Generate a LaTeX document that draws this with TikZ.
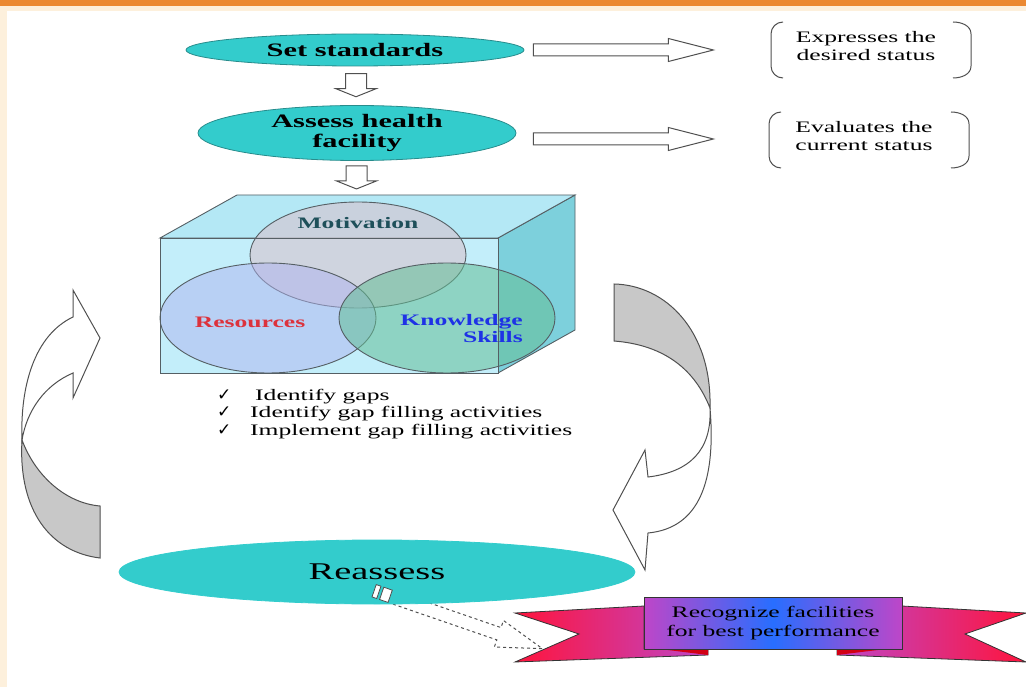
\documentclass[tikz,border=0pt]{standalone}
\usepackage{fontspec}
\setmainfont{Liberation Serif}[FakeStretch=1.6]
\newfontfamily\checkfont{DejaVu Sans}
\usepackage{tikz}
\usetikzlibrary{shapes.geometric,calc,positioning,backgrounds}

\definecolor{framebar}{RGB}{235,137,50}
\definecolor{framecream}{RGB}{253,240,220}
\definecolor{ovalteal}{RGB}{51,204,204}
\definecolor{ovalline}{RGB}{40,140,140}
\definecolor{arrowgray}{RGB}{80,80,80}
\definecolor{bandgray}{RGB}{200,200,200}
\definecolor{cubefront}{RGB}{195,238,250}
\definecolor{cubetop}{RGB}{180,232,245}
\definecolor{cubeside}{RGB}{125,208,220}
\definecolor{cubeline}{RGB}{85,95,100}
\definecolor{motivfill}{RGB}{215,195,205}
\definecolor{resfill}{RGB}{175,180,240}
\definecolor{knowfill}{RGB}{100,190,150}
\definecolor{motivtext}{RGB}{30,80,90}
\definecolor{restext}{RGB}{220,50,60}
\definecolor{knowtext}{RGB}{30,50,230}
\definecolor{ribred}{RGB}{255,20,60}
\definecolor{ribpurple}{RGB}{190,70,200}
\definecolor{ribblue}{RGB}{40,110,255}
\definecolor{ribfold}{RGB}{210,0,20}

\tikzset{
  oval/.style={ellipse, draw=ovalline, line width=0.8pt, fill=ovalteal, inner sep=0pt, align=center},
  blockarrow/.style={draw=arrowgray, line width=1pt, fill=white},
  bracketline/.style={draw=arrowgray, line width=1pt},
  venn/.style={draw=cubeline, line width=0.9pt},
  bandwhite/.style={draw=arrowgray, line width=1pt, fill=white},
  bandshade/.style={draw=arrowgray, line width=1pt, fill=bandgray},
  stripe/.style={draw=arrowgray, line width=0.8pt, fill=white},
  ribbonline/.style={draw=black!80, line width=0.8pt},
  downblock/.pic={
    \draw[blockarrow] (-10.5,-12) -- (10.5,-12) -- (10.5,3) -- (20,3) -- (0,11)
      -- (-20,3) -- (-10.5,3) -- cycle;
  },
  rightblock/.pic={
    \draw[blockarrow] (0,-6) -- (135,-6) -- (135,-11.5) -- (180,0) -- (135,11.5)
      -- (135,6) -- (0,6) -- cycle;
  }
}

\begin{document}
\begin{tikzpicture}[x=1pt,y=-1pt]
  \useasboundingbox (0,0) rectangle (1026,687);

  % --- slide frame ---
  \fill[framecream] (0,6) rectangle (1026,11);
  \fill[framecream] (0,6) rectangle (7,687);
  \fill[framebar] (0,0) rectangle (1026,6);

  % ======================================================
  % top: standards and assessment
  % ======================================================
  \node[oval, minimum width=338pt, minimum height=32pt,
        font=\fontsize{19}{20}\selectfont\bfseries] (set) at (355,50) {Set standards};
  \node[oval, minimum width=318pt, minimum height=55pt,
        font=\fontsize{19}{20}\selectfont\bfseries] (assess) at (357,133) {Assess health\\facility};
  \coordinate (cubetop) at (356,195);

  \pic at ($(set.south)!0.5!(assess.north)$) {downblock};
  \pic at ($(assess.south)!0.5!(cubetop)$) {downblock};

  % notes in round brackets
  \node[align=center, font=\fontsize{16}{18}\selectfont] (desired) at (866,46) {Expresses the\\desired status};
  \node[align=center, font=\fontsize{16}{18}\selectfont] (current) at (864,136) {Evaluates the\\current status};

  \pic at ($(set.east)+(9,0)$) {rightblock};
  \pic at ($(assess.east)+(17,6)$) {rightblock};

  \foreach \n in {desired,current}{
    \draw[bracketline] ($(\n.center)+(-83,-24)$) to[out=180,in=90] ++(-12,12)
      -- ++(0,32) to[out=-90,in=180] ++(12,12);
    \draw[bracketline] ($(\n.center)+(87,-24)$) to[out=0,in=90] ++(18,12)
      -- ++(0,32) to[out=-90,in=0] ++(-18,12);
  }

  % ======================================================
  % box with the three circles
  % ======================================================
  \draw[draw=cubeline, line width=0.9pt, fill=cubeside] (498,238) -- (575,195) -- (575,330) -- (498,373) -- cycle;
  \draw[draw=cubeline, line width=0.9pt, fill=cubetop] (160,238) -- (237,195) -- (575,195) -- (498,238) -- cycle;
  \fill[cubefront] (160,238) rectangle (498,373);

  \draw[venn, fill=motivfill, fill opacity=0.6] (358,255) ellipse [x radius=108pt, y radius=53pt];
  \draw[venn, fill=resfill, fill opacity=0.5] (268,318) ellipse [x radius=108pt, y radius=55pt];
  \draw[venn, fill=knowfill, fill opacity=0.55] (447,318) ellipse [x radius=108pt, y radius=55pt];

  \draw[draw=cubeline, line width=0.9pt] (160,238) rectangle (498,373);

  \node[font=\fontsize{16}{17}\selectfont\bfseries, text=motivtext] (motiv) at (358,223) {Motivation};
  \node[font=\fontsize{16}{17}\selectfont\bfseries, text=restext] (res) at (250,322) {Resources};
  \node[font=\fontsize{16}{17}\selectfont\bfseries, text=knowtext, align=right,
        anchor=east, inner sep=0pt] (know) at (523,329) {Knowledge\\Skills};

  % gap list
  \node[anchor=west, align=left, inner sep=0pt, font=\fontsize{16}{17.5}\selectfont] (gaps) at (217,414)
    {\makebox[38pt][l]{\checkfont\fontsize{17}{17}\selectfont ✓}Identify gaps\\
     \makebox[33pt][l]{\checkfont\fontsize{17}{17}\selectfont ✓}Identify gap filling activities\\
     \makebox[33pt][l]{\checkfont\fontsize{17}{17}\selectfont ✓}Implement gap filling activities};

  % ======================================================
  % bottom: reassess and recognition
  % ======================================================
  \node[oval, draw=ovalteal, minimum width=516pt, minimum height=64pt,
        font=\fontsize{24}{26}\selectfont, text depth=-4pt] (reassess) at (377,572) {Reassess};

  % dashed arrow to the ribbon (behind the oval)
  \begin{scope}[on background layer, shift={($(reassess.south)+(-1,-13)$)}, rotate=-19]
    \draw[dashed, draw=arrowgray, line width=1pt, fill=white] (18,-6.5) -- (130,-6.5) -- (130,-14)
      -- (176,0) -- (130,14) -- (130,6.5) -- (18,6.5) -- cycle;
  \end{scope}
  \begin{scope}[shift={($(reassess.south)+(-1,-13)$)}, rotate=-19]
    \draw[stripe] (-2,-6.5) rectangle (3,6.5);
    \draw[stripe] (6,-6.5) rectangle (15,6.5);
  \end{scope}

  % ribbon tails
  \draw[ribbonline, left color=ribred, right color=ribpurple]
    (644,606) -- (515,613) -- (579,634) -- (515,662) -- (708,655) -- (708,649) -- (644,649) -- cycle;
  \draw[ribbonline, left color=ribpurple, right color=ribred]
    (902,606) -- (1026,613) -- (965,634) -- (1026,662) -- (837,655) -- (837,649) -- (902,649) -- cycle;
  \fill[ribfold] (644,647) -- (708,647) -- (708,655) -- cycle;
  \fill[ribfold] (902,647) -- (837,647) -- (837,655) -- cycle;

  \node[ribbonline, minimum width=258pt, minimum height=52pt, inner sep=0pt, align=center,
        left color=ribpurple, right color=ribpurple, middle color=ribblue,
        font=\fontsize{16}{19}\selectfont] (award) at (773,623) {Recognize facilities\\for best performance};

  % ======================================================
  % curved return arrows
  % ======================================================
  % right side: down to reassess
  \draw[bandshade] (614,284) .. controls (665,285) and (712,330) .. (710,408)
    .. controls (695,370) and (665,345) .. (614,341) -- cycle;
  \draw[bandwhite] (710,408) .. controls (712,450) and (690,472) .. (648,477) -- (645,450)
    -- (613,510) -- (645,570) -- (648,533) .. controls (700,528) and (716,480) .. (710,408) -- cycle;

  % left side: back up to the box
  \draw[bandshade] (22,440) .. controls (35,475) and (65,503) .. (100,506) -- (100,558)
    .. controls (50,552) and (18,510) .. (22,440) -- cycle;
  \draw[bandwhite] (22,440) .. controls (20,385) and (35,335) .. (73,317) -- (73,290) -- (100,338)
    -- (73,398) -- (73,373) .. controls (45,385) and (27,410) .. (22,440) -- cycle;

\end{tikzpicture}
\end{document}
